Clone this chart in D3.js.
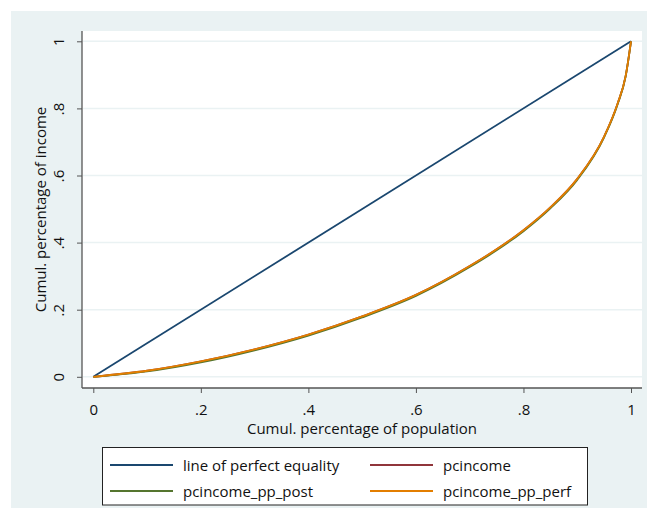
<!DOCTYPE html>
<html>
<head>
<meta charset="utf-8">
<script src="https://cdn.jsdelivr.net/npm/d3@7"></script>
<style>
  body { margin: 0; background: white; }
  text { font-family: 'Open Sans', sans-serif; fill: #111; }
</style>
</head>
<body>
<div id="chart"></div>
<script>
// data
var pop_share = [0, 0.1, 0.2, 0.3, 0.4, 0.5, 0.6, 0.7, 0.75, 0.8, 0.85, 0.9, 0.95, 0.975, 0.99, 1];
var pcincome = [0, 0.018, 0.046, 0.082, 0.126, 0.180, 0.244, 0.330, 0.380, 0.437, 0.505, 0.590, 0.716, 0.814, 0.896, 1];
var pcincome_pp_post = [0, 0.016, 0.043, 0.079, 0.123, 0.177, 0.241, 0.327, 0.377, 0.434, 0.502, 0.587, 0.714, 0.812, 0.895, 1];
var pcincome_pp_perf = [0, 0.018, 0.046, 0.082, 0.126, 0.180, 0.244, 0.330, 0.380, 0.437, 0.505, 0.590, 0.716, 0.814, 0.896, 1];
var equality = [0, 1];
var equality_x = [0, 1];

var x_ticks = [0, 0.2, 0.4, 0.6, 0.8, 1];
var y_ticks = [0, 0.2, 0.4, 0.6, 0.8, 1];
var legend_names = ['line of perfect equality', 'pcincome', 'pcincome_pp_post', 'pcincome_pp_perf'];
var colors = ['#1a476f', '#90353b', '#55752f', '#e37e00'];

// setup SVG
var width = 647, height = 519;
var svg = d3.select('#chart').append('svg')
    .attr('width', width).attr('height', height);

// outer background
svg.append('rect')
    .attr('x', 11).attr('y', 11)
    .attr('width', width - 11).attr('height', 497)
    .attr('fill', '#eaf2f3');

// plot region
var plot = { left: 82, top: 31, right: 642, bottom: 388 };
svg.append('rect')
    .attr('x', plot.left).attr('y', plot.top)
    .attr('width', plot.right - plot.left).attr('height', plot.bottom - plot.top)
    .attr('fill', 'white');

var x = d3.scaleLinear().domain([0, 1]).range([93.3, 631]);
var y = d3.scaleLinear().domain([0, 1]).range([376.8, 41.3]);

var fmt = function(d) {
    if (d === 0 || d === 1) return String(d);
    return String(d).replace(/^0/, '');
};

// horizontal grid
svg.append('g').selectAll('line')
    .data(y_ticks).enter().append('line')
    .attr('x1', plot.left + 1).attr('x2', plot.right)
    .attr('y1', function(d) { return y(d); })
    .attr('y2', function(d) { return y(d); })
    .attr('stroke', '#eaf2f3').attr('stroke-width', 1.5);

// axes
var y_axis = svg.append('g')
    .attr('transform', 'translate(' + plot.left + ',0)')
    .call(d3.axisLeft(y).tickValues(y_ticks).tickSize(5).tickSizeOuter(0).tickFormat(fmt));
var x_axis = svg.append('g')
    .attr('transform', 'translate(0,' + plot.bottom + ')')
    .call(d3.axisBottom(x).tickValues(x_ticks).tickSize(5).tickSizeOuter(0).tickFormat(fmt));

// axis lines span the whole plot region
y_axis.select('.domain').attr('d', 'M0,' + plot.top + 'V' + plot.bottom);
x_axis.select('.domain').attr('d', 'M' + plot.left + ',0H' + plot.right);
svg.selectAll('.domain').attr('stroke', '#555').attr('stroke-width', 1.3);
svg.selectAll('.tick line').attr('stroke', '#555');

y_axis.selectAll('.tick text')
    .attr('font-size', 15).attr('font-family', 'Open Sans')
    .attr('fill', '#111')
    .attr('x', 0).attr('dy', 0)
    .attr('text-anchor', 'middle')
    .attr('transform', 'translate(-18.5,0) rotate(-90)');
x_axis.selectAll('.tick text')
    .attr('font-size', 15).attr('font-family', 'Open Sans')
    .attr('fill', '#111')
    .attr('y', 27).attr('dy', 0);

// axis titles
svg.append('text')
    .attr('x', (plot.left + plot.right) / 2).attr('y', 434)
    .attr('text-anchor', 'middle')
    .attr('font-size', 15)
    .text('Cumul. percentage of population');
svg.append('text')
    .attr('transform', 'translate(46,' + ((plot.top + plot.bottom) / 2) + ') rotate(-90)')
    .attr('text-anchor', 'middle')
    .attr('font-size', 15)
    .text('Cumul. percentage of income');

// lines
var line = d3.line()
    .x(function(d) { return x(d[0]); })
    .y(function(d) { return y(d[1]); })
    .curve(d3.curveMonotoneX);

var series = [
    d3.zip(equality_x, equality),
    d3.zip(pop_share, pcincome),
    d3.zip(pop_share, pcincome_pp_post),
    d3.zip(pop_share, pcincome_pp_perf)
];

svg.append('g').selectAll('path')
    .data(series).enter().append('path')
    .attr('d', line)
    .attr('fill', 'none')
    .attr('stroke', function(d, i) { return colors[i]; })
    .attr('stroke-width', 1.8);

// legend
svg.append('rect')
    .attr('x', 102.5).attr('y', 447.5)
    .attr('width', 485).attr('height', 57.5)
    .attr('fill', 'white').attr('stroke', '#222').attr('stroke-width', 1);

var legend = svg.append('g').selectAll('g')
    .data(legend_names).enter().append('g')
    .attr('transform', function(d, i) {
        return 'translate(' + (i % 2 * 260 + 110) + ',' + (Math.floor(i / 2) * 26 + 465) + ')';
    });

legend.append('line')
    .attr('x1', 0).attr('x2', 63)
    .attr('y1', 0).attr('y2', 0)
    .attr('stroke', function(d, i) { return colors[i]; })
    .attr('stroke-width', 1.8);

legend.append('text')
    .attr('x', 73).attr('y', 6)
    .attr('font-size', 15)
    .text(function(d) { return d; });
</script>
</body>
</html>
